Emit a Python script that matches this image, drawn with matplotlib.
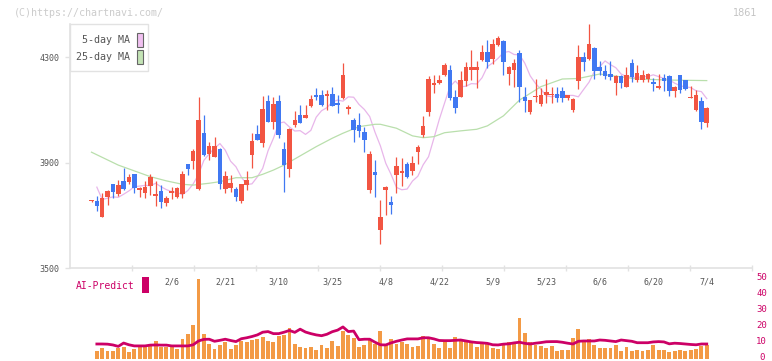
# -*- coding: utf-8 -*-
import numpy as np
import matplotlib
matplotlib.use('Agg')
import matplotlib.pyplot as plt
from matplotlib import patches, transforms

# daily candles (index 0..115), prices in yen
opens = [3754, 3755, 3695, 3771, 3819, 3782, 3831, 3828, 3857, 3796,
         3786, 3813, 3775, 3793, 3748, 3786, 3771, 3781, 3895, 3907,
         3800, 4013, 3933, 3923, 3953, 3800, 3805, 3800, 3755, 3815,
         3929, 4009, 3975, 4135, 4055, 4135, 3952, 3876, 4043, 4081,
         4071, 4117, 4157, 4157, 4155, 4161, 4127, 4146, 4105, 4062,
         4043, 4017, 3796, 3865, 3644, 3798, 3751, 3853, 3861, 3895,
         3869, 3941, 4005, 4093, 4195, 4203, 4233, 4252, 4150, 4150,
         4211, 4252, 4252, 4290, 4321, 4294, 4347, 4363, 4237, 4252,
         4317, 4149, 4093, 4149, 4123, 4156, 4156, 4161, 4173, 4146,
         4102, 4211, 4302, 4294, 4336, 4264, 4249, 4237, 4203, 4230,
         4188, 4279, 4214, 4214, 4218, 4207, 4185, 4222, 4230, 4173,
         4233, 4214, 4146, 4100, 4135, 4051]
closes = [3756, 3737, 3766, 3793, 3790, 3815, 3801, 3845, 3805, 3804,
          3809, 3846, 3779, 3751, 3766, 3793, 3804, 3857, 3876, 3945,
          4062, 3929, 3964, 3964, 3820, 3851, 3824, 3771, 3819, 3834,
          3983, 3986, 4104, 4055, 4123, 4005, 3891, 4028, 4062, 4052,
          4081, 4142, 4151, 4119, 4161, 4117, 4121, 4233, 4112, 4024,
          4022, 3986, 3933, 3855, 3694, 3808, 3741, 3888, 3869, 3846,
          3899, 3960, 4040, 4218, 4203, 4214, 4271, 4146, 4108, 4214,
          4264, 4264, 4264, 4321, 4283, 4351, 4374, 4283, 4264, 4279,
          4189, 4135, 4138, 4154, 4156, 4169, 4161, 4146, 4146, 4157,
          4142, 4302, 4283, 4351, 4249, 4249, 4230, 4226, 4230, 4203,
          4233, 4226, 4241, 4233, 4237, 4199, 4192, 4211, 4173, 4188,
          4176, 4180, 4150, 4157, 4055, 4108]
highs = [3758, 3774, 3785, 3795, 3820, 3834, 3880, 3856, 3858, 3806,
         3829, 3856, 3831, 3815, 3774, 3807, 3806, 3869, 3897, 3952,
         4150, 4081, 3980, 3999, 3955, 3869, 3852, 3809, 3821, 3869,
         4013, 4043, 4154, 4157, 4150, 4157, 3980, 4030, 4097, 4119,
         4118, 4157, 4184, 4176, 4176, 4188, 4157, 4279, 4119, 4069,
         4089, 4037, 3945, 3910, 3758, 3812, 3774, 3922, 3918, 3903,
         3926, 3967, 4078, 4230, 4233, 4233, 4279, 4271, 4176, 4249,
         4283, 4328, 4287, 4347, 4366, 4370, 4382, 4366, 4266, 4294,
         4328, 4189, 4140, 4218, 4184, 4218, 4189, 4189, 4189, 4159,
         4146, 4347, 4321, 4427, 4340, 4287, 4271, 4287, 4232, 4232,
         4265, 4294, 4271, 4252, 4241, 4222, 4237, 4237, 4232, 4190,
         4235, 4216, 4192, 4176, 4150, 4110]
lows = [3752, 3717, 3693, 3740, 3766, 3774, 3795, 3820, 3786, 3771,
        3767, 3777, 3737, 3727, 3737, 3762, 3767, 3767, 3853, 3876,
        3796, 3926, 3910, 3922, 3800, 3786, 3790, 3755, 3748, 3796,
        3880, 3985, 3960, 4053, 4028, 3995, 3789, 3846, 4036, 4050,
        4068, 4113, 4138, 4117, 4100, 4115, 4090, 4143, 4085, 3980,
        3999, 3942, 3784, 3771, 3591, 3701, 3706, 3785, 3812, 3842,
        3853, 3895, 3998, 4078, 4165, 4199, 4230, 4138, 4089, 4148,
        4192, 4214, 4184, 4288, 4260, 4275, 4344, 4233, 4195, 4189,
        4132, 4093, 4085, 4132, 4116, 4126, 4126, 4132, 4132, 4138,
        4093, 4180, 4249, 4290, 4218, 4233, 4218, 4214, 4157, 4184,
        4186, 4208, 4208, 4208, 4208, 4173, 4181, 4173, 4154, 4151,
        4165, 4178, 4144, 4098, 4028, 4036]

# closes before the window, needed for the first 5-day averages
prev_closes = [3972, 3741, 3768, 3799]

# 25-day MA (candle index, yen)
ma25_idx = [0, 5, 8, 11, 14, 17, 19, 22, 24, 27, 30, 32, 34, 36, 39, 42, 45,
            47, 50, 53, 54, 57, 60, 62, 64, 66, 69, 72, 74, 77, 78, 80, 84,
            88, 91, 95, 102, 108, 115]
ma25_val = [3940, 3891, 3869, 3847, 3831, 3818, 3815, 3822, 3828, 3843, 3843,
            3856, 3872, 3891, 3926, 3961, 3993, 4012, 4037, 4046, 4046, 4031,
            4002, 3995, 3999, 4014, 4021, 4027, 4040, 4078, 4098, 4138, 4189,
            4218, 4220, 4237, 4218, 4214, 4212]

# lower panel, candle index 1..115
volume = [4.9, 6.4, 4.9, 4.9, 6.8, 7.4, 4.3, 5.8, 7.0, 7.0,
          7.9, 11.2, 7.4, 7.0, 7.0, 6.2, 12.3, 15.4, 21.1, 50.0,
          15.4, 9.1, 6.0, 8.5, 10.6, 6.0, 8.5, 11.0, 10.6, 11.6,
          12.3, 13.3, 11.0, 10.4, 14.2, 14.8, 19.0, 9.1, 7.0, 6.6,
          7.0, 5.3, 8.5, 6.6, 11.0, 7.9, 17.3, 14.8, 13.1, 7.0,
          8.5, 11.6, 9.1, 17.3, 8.2, 12.3, 9.1, 10.6, 9.1, 7.4,
          7.9, 14.2, 13.3, 9.1, 6.6, 10.6, 6.6, 13.3, 11.0, 10.6,
          10.6, 7.4, 9.1, 9.1, 6.6, 6.0, 8.5, 10.5, 8.9, 25.7,
          16.2, 10.6, 8.5, 7.9, 6.8, 7.9, 4.9, 5.3, 5.3, 13.1,
          18.6, 10.6, 12.3, 8.5, 6.8, 6.8, 6.8, 8.5, 4.9, 7.0,
          4.9, 5.3, 4.9, 5.3, 8.5, 5.3, 5.3, 4.3, 4.9, 5.3,
          4.9, 5.3, 5.8, 7.9, 8.5]
ai_predict = [9.1, 9.1, 9.0, 8.5, 7.6, 9.7, 8.6, 7.9, 7.9, 7.9,
              8.4, 8.5, 8.4, 8.4, 7.9, 7.9, 7.9, 7.9, 8.6, 11.0,
              12.0, 12.1, 10.8, 11.4, 12.1, 11.3, 10.6, 12.4, 13.0, 13.8,
              14.8, 16.5, 16.9, 15.6, 15.6, 16.5, 17.6, 16.4, 18.4, 16.6,
              15.6, 14.8, 14.3, 15.2, 16.8, 17.8, 19.8, 16.9, 17.2, 11.8,
              12.1, 12.1, 10.2, 8.6, 8.5, 9.8, 10.8, 11.6, 12.3, 12.3,
              12.3, 13.0, 13.0, 12.3, 11.3, 11.2, 11.2, 11.4, 11.6, 11.0,
              10.4, 10.0, 9.8, 9.5, 8.6, 8.5, 9.0, 9.2, 9.8, 10.2,
              9.5, 9.1, 9.6, 10.0, 10.5, 10.6, 10.6, 10.2, 9.6, 9.1,
              10.8, 11.0, 11.0, 11.0, 11.6, 11.4, 11.0, 10.6, 11.6, 11.2,
              10.8, 9.9, 9.9, 9.9, 10.4, 10.6, 10.4, 9.2, 9.6, 9.4,
              9.1, 8.8, 8.6, 9.1, 9.1]

date_idx = [15, 25, 35, 45, 55, 65, 75, 85, 95, 105, 115]
date_labels = ['2/6', '2/21', '3/10', '3/25', '4/8', '4/22',
               '5/9', '5/23', '6/6', '6/20', '7/4']

UP = '#f25542'
DOWN = '#4078f2'
GRID = '#e2e2e2'
TXT = '#555555'
MAGENTA = '#cc0066'
MONO = 'DejaVu Sans Mono'

W, H = 772, 361
fig = plt.figure(figsize=(W / 100, H / 100), dpi=100)


def px_box(x0, y0, x1, y1):
    # pixel box (origin top-left) -> figure fraction [l, b, w, h]
    return [x0 / W, 1 - y1 / H, (x1 - x0) / W, (y1 - y0) / H]


def px(x, y):
    return x / W, 1 - y / H


XLIM = (-4.02, 123.46)

# ---- price panel ----
ax = fig.add_axes(px_box(70, 24, 752, 268))
n = len(closes)
xs = np.arange(n)
o = np.array(opens)
c = np.array(closes)
colors = [UP if cc >= oo else DOWN for oo, cc in zip(o, c)]

ax.vlines(xs, lows, highs, colors=colors, linewidth=0.9, zorder=3)
body_lo = np.minimum(o, c)
body_h = np.maximum(np.abs(c - o), 5)
ax.bar(xs, body_h, bottom=body_lo, width=0.85, color=colors, linewidth=0, zorder=4)

# 5-day MA, chart draws it one day to the right
all_closes = np.array(prev_closes + closes, dtype=float)
ma5 = np.convolve(all_closes, np.ones(5) / 5, mode='valid')
ax.plot(xs[1:], ma5[:-1], color='#e8b6ea', linewidth=0.9, zorder=2)
ax.plot(ma25_idx, ma25_val, color='#b9dfac', linewidth=0.9, zorder=2)

ax.set_xlim(*XLIM)
ax.set_ylim(3500, 4427)
for side in ('top', 'right'):
    ax.spines[side].set_visible(False)
for side in ('left', 'bottom'):
    ax.spines[side].set_color(GRID)
    ax.spines[side].set_linewidth(1.2)
ax.set_yticks([3500, 3900, 4300])
ax.set_yticklabels(['3500', '3900', '4300'], fontsize=6, color=TXT, family=MONO)
ax.tick_params(axis='y', length=3.6, width=1, color=GRID, pad=4)
ax.set_xticks(np.linspace(XLIM[0], XLIM[1], 12)[1:])
ax.tick_params(axis='x', direction='inout', length=4, width=1, color=GRID,
               labelbottom=False)

# ---- AI-Predict panel ----
axv = fig.add_axes(px_box(70, 278.8, 752, 358.5))
vx = np.arange(1, n)
axv.bar(vx, volume, width=0.72, color='#f39a45', linewidth=0, zorder=2)
axv.plot(vx, ai_predict, color=MAGENTA, linewidth=2.0, zorder=3)
axv.set_xlim(*XLIM)
axv.set_ylim(0, 50)
for s in axv.spines.values():
    s.set_visible(False)
axv.set_xticks([])
axv.yaxis.tick_right()
axv.set_yticks(range(0, 60, 10))
axv.set_yticklabels([str(v) for v in range(0, 60, 10)], fontsize=6.5,
                    color=MAGENTA, family=MONO)
axv.tick_params(axis='y', length=0, pad=7)
lift = transforms.ScaledTranslation(0, 2 / 100, fig.dpi_scale_trans)
for lab in axv.get_yticklabels():
    lab.set_horizontalalignment('center')
    lab.set_transform(lab.get_transform() + lift)

trans = transforms.blended_transform_factory(ax.transData, fig.transFigure)
for i, lab in zip(date_idx, date_labels):
    fig.text(i, px(0, 282)[1], lab, transform=trans, ha='center', va='center',
             fontsize=6, color=TXT, family=MONO)

fig.text(*px(76, 286), 'AI-Predict', ha='left', va='center', fontsize=7,
         color=MAGENTA, family=MONO)
fig.add_artist(patches.Rectangle(px(142.3, 292.7), 6.4 / W, 15.4 / H,
                                 transform=fig.transFigure, facecolor=MAGENTA,
                                 edgecolor='none'))

# ---- legend box ----
fig.add_artist(patches.Rectangle(px(70, 71), 78 / W, 47 / H,
                                 transform=fig.transFigure, facecolor='white',
                                 edgecolor=GRID, linewidth=1.0, zorder=5))
for yy, lab, col in ((40, '5-day MA', '#f0c0f0'), (57, '25-day MA', '#c3e3b5')):
    fig.text(*px(129.5, yy), lab, ha='right', va='center', fontsize=7.2,
             color=TXT, family=MONO, zorder=6)
    fig.add_artist(patches.Rectangle(px(136.5, yy + 7.3), 6 / W, 14.6 / H,
                                     transform=fig.transFigure, facecolor=col,
                                     edgecolor='#666666', linewidth=0.8, zorder=6))

fig.text(*px(14, 12.5), '(C)https://chartnavi.com/', ha='left', va='center',
         fontsize=7.2, color='#cccccc', family=MONO)
fig.text(*px(757, 12.5), '1861', ha='right', va='center', fontsize=7,
         color='#c4c4c4')

fig.savefig('out.png', dpi=100)
